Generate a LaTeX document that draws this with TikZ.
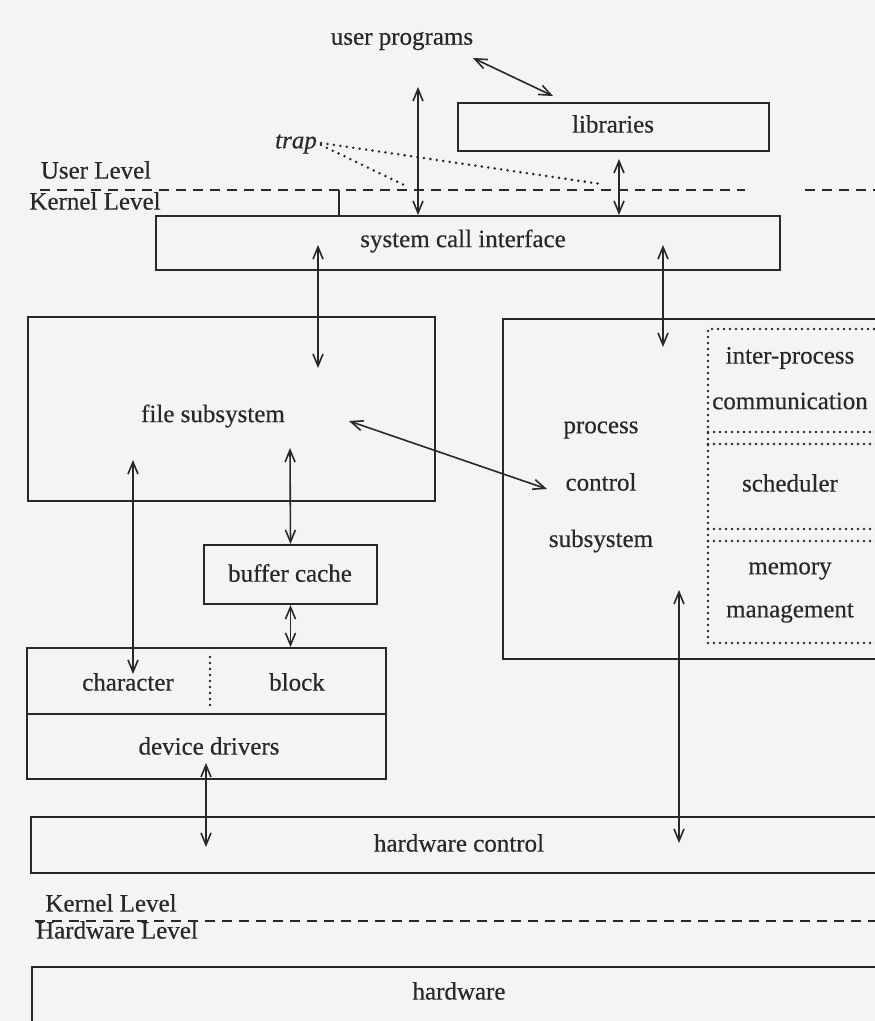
\documentclass[tikz,border=0pt]{standalone}
\usepackage{fontspec}
\setmainfont{Liberation Serif}[FakeBold=0.4]
\usetikzlibrary{arrows.meta}
\definecolor{paper}{RGB}{244,244,242}
\definecolor{ink}{RGB}{40,40,40}
\tikzset{
  box/.style={draw=ink, line width=2pt, inner sep=0pt, text=ink},
  lbl/.style={text=ink, inner sep=0pt, font=\fontsize{25}{30}\selectfont},
  dbl/.style={draw=ink, line width=1.6pt,
    {Straight Barb[length=12pt,width=10pt]}-{Straight Barb[length=12pt,width=10pt]}},
  levelline/.style={draw=ink, line width=1.8pt, dash pattern=on 10pt off 7pt},
  dots/.style={draw=ink, line width=2.6pt, line cap=round, dash pattern=on 0pt off 6pt},
  trapdots/.style={draw=ink, line width=2.8pt, line cap=round, dash pattern=on 0pt off 6.5pt},
}
\begin{document}
\begin{tikzpicture}[x=1pt, y=-1pt]
\useasboundingbox (0,0) rectangle (875,1021);
\fill[paper] (0,0) rectangle (875,1021);
\clip (0,0) rectangle (875,1021);

% ---- boxes ----
\node[box, minimum width=311pt, minimum height=48pt] (lib) at (613.5,127) {};
\node[lbl] (libT) at (613,124) {libraries};

\node[box, minimum width=624pt, minimum height=54pt] (sci) at (468,243) {};
\node[lbl] (sciT) at (463,241) {system call interface};

\node[box, minimum width=407pt, minimum height=184pt] (fs) at (231.5,409) {};
\node[lbl] (fsT) at (213,416) {file subsystem};

\node[box, minimum width=173pt, minimum height=59pt] (bc) at (290.5,574.5) {};
\node[lbl] (bcT) at (290,573) {buffer cache};

\node[box, minimum width=359pt, minimum height=131pt] (dev) at (206.5,713.5) {};
\draw[draw=ink, line width=2pt] (dev.west |- 0,714) coordinate (devL) -- (dev.east |- 0,714) coordinate (devR);
\draw[dots] (210,657) -- (210,706);
\node[lbl] (chT) at (128,682) {character};
\node[lbl] (blT) at (297,682) {block};
\node[lbl] (ddT) at (209,746) {device drivers};

\node[box, minimum width=387pt, minimum height=340pt] (pc) at (696.5,489) {};
\node[lbl] (pcA) at (601,430) {process};
\node[lbl] (pcB) at (601,482) {control};
\node[lbl] (pcC) at (601,541) {subsystem};

% dotted inner column of the process control subsystem
\draw[dots] (892,329) -- (708,329) -- (708,643) -- (892,643);
\draw[dots] (708,432) -- (892,432);
\draw[dots] (708,444) -- (892,444);
\draw[dots] (708,529) -- (892,529);
\draw[dots] (708,541) -- (892,541);
\node[lbl] (ipcA) at (790,358) {inter-process};
\node[lbl] (ipcB) at (790,401) {communication};
\node[lbl] (sch) at (790,483) {scheduler};
\node[lbl] (memA) at (790,571) {memory};
\node[lbl] (memB) at (790,613) {management};

\node[box, minimum width=859pt, minimum height=56pt] (hc) at (460.5,845) {};
\node[lbl] (hcT) at (459,843) {hardware control};

\node[box, minimum width=858pt, minimum height=80pt] (hw) at (461,1007) {};
\node[lbl] (hwT) at (459,991) {hardware};

% ---- free labels ----
\node[lbl] (up) at (402,41) {user programs};
\node[lbl, font=\fontsize{25}{30}\selectfont\itshape] (trap) at (296,144) {trap};
\node[lbl] (ul) at (96,170) {User Level};
\node[lbl] (kl) at (95,201) {Kernel Level};
\node[lbl] (kl2) at (111,903) {Kernel Level};
\node[lbl] (hl) at (117,930) {Hardware Level};

% ---- level boundaries ----
\draw[levelline] (40,190) coordinate (ukA) -- (745,190) coordinate (ukB);
\draw[levelline] (805,190) coordinate (ukC) -- (880,190) coordinate (ukD);
\draw[levelline] (35,921) coordinate (khA) -- (880,921) coordinate (khB);
\draw[draw=ink, line width=1.4pt] (339,190) -- (sci.north -| 339,0);

% ---- trap dotted paths ----
\coordinate (trapA) at (406,186);
\coordinate (trapB) at (601,184);
\draw[trapdots] (trap.east) ++(4,1) -- (trapA);
\draw[trapdots] (trap.east) ++(4,-1) -- (trapB);

% ---- connectors ----
\coordinate (upEnd) at (473,58);
\coordinate (libEnd) at (553,96);
\draw[dbl] (upEnd) -- (libEnd);

\coordinate (upTop) at (418,87);
\draw[dbl] (upTop) -- (sci.north -| upTop);

\draw[dbl] (lib.south -| 619,0) ++(0,7) -- (sci.north -| 619,0);

\coordinate (sciL) at (318,245);
\coordinate (fsTop) at (318,368);
\draw[dbl] (sciL) -- (fsTop);

\coordinate (sciR) at (663,245);
\coordinate (pcTop) at (663,347);
\draw[dbl] (sciR) -- (pcTop);

\coordinate (pcMid) at (547,489);
\coordinate (fsMid) at (349,421);
\draw[dbl] (pcMid) -- (fsMid);

\coordinate (fsBc) at (290,448);
\draw[dbl] (fsBc) -- (bc.north);

\draw[dbl] (bc.south) -- (dev.north -| bc.south);

\coordinate (fsCh) at (133,460);
\coordinate (chIn) at (133,674);
\draw[dbl] (fsCh) -- (chIn);

\coordinate (ddIn) at (206,763);
\coordinate (hcL) at (206,847);
\draw[dbl] (ddIn) -- (hcL);

\coordinate (pcBot) at (679,590);
\coordinate (hcR) at (679,843);
\draw[dbl] (pcBot) -- (hcR);
\end{tikzpicture}
\end{document}
